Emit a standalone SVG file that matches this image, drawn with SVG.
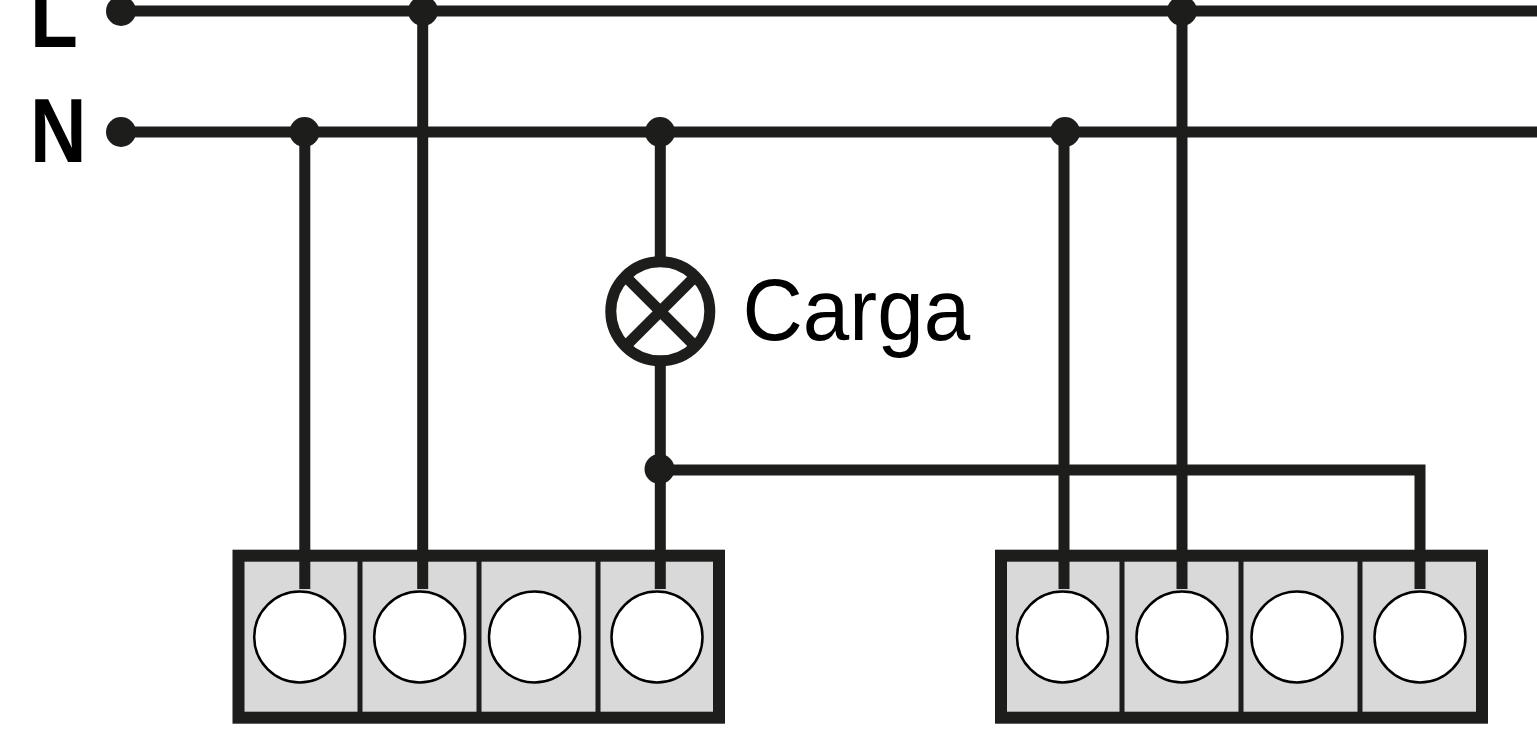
<svg xmlns="http://www.w3.org/2000/svg" width="1537" height="731" viewBox="0 0 1537 731">
<style>
.w{fill:none;stroke:#1d1d1b;stroke-width:11}
.d{fill:#1d1d1b}
.box{fill:#d9d9d9;stroke:#1d1d1b;stroke-width:12}
.div{stroke:#1d1d1b;stroke-width:5}
.t{fill:#fff;stroke:#000;stroke-width:2.5}
.b{font-family:"Liberation Sans",Arial,sans-serif;font-weight:700;font-size:90px;fill:#000}
.c{font-family:"Liberation Sans",Arial,sans-serif;font-size:88px;fill:#000}
</style>
<g id="terminal-block-1">
<rect class="box" x="238.5" y="555.7" width="480.5" height="162"/>
<path class="div" d="M360 556V718M479 556V718M598 556V718"/>
</g>
<g id="terminal-block-2">
<rect class="box" x="1001" y="555.7" width="481" height="162"/>
<path class="div" d="M1122 556V718M1241 556V718M1360 556V718"/>
</g>
<g id="connectors">
<path class="w" d="M121 11H1537M121 132H1537"/>
<path class="w" d="M304.8 132V589M422.7 11V589M660.3 132V589M1064 132V589M1182 11V589M660 470H1420V589"/>
<circle class="d" cx="121" cy="11" r="15"/>
<circle class="d" cx="121" cy="132" r="15"/>
<circle class="d" cx="304.5" cy="132" r="15"/>
<circle class="d" cx="423" cy="11" r="15"/>
<circle class="d" cx="660" cy="132" r="15"/>
<circle class="d" cx="1065" cy="132" r="15"/>
<circle class="d" cx="1182" cy="11" r="15"/>
<circle class="d" cx="659.5" cy="469" r="15"/>
</g>
<g id="terminals-1">
<circle class="t" cx="299.7" cy="637" r="45.5"/>
<circle class="t" cx="419.7" cy="637" r="45.5"/>
<circle class="t" cx="534.5" cy="637" r="45.5"/>
<circle class="t" cx="657" cy="637" r="45.5"/>
</g>
<g id="terminals-2">
<circle class="t" cx="1062.5" cy="637" r="45.5"/>
<circle class="t" cx="1182" cy="637" r="45.5"/>
<circle class="t" cx="1297" cy="637" r="45.5"/>
<circle class="t" cx="1420" cy="637" r="45.5"/>
</g>
<g id="lamp">
<circle cx="660.3" cy="311.3" r="49.5" fill="#fff" stroke="#1d1d1b" stroke-width="11"/>
<path class="w" d="M625.3 276.3L695.3 346.3M695.3 276.3L625.3 346.3"/>
<text class="c" transform="translate(742.5 340) scale(.95 1)">Carga</text>
</g>
<g id="label-L"><text class="b" transform="translate(30 46.7) scale(.87 1)">L</text></g>
<g id="label-N"><text class="b" transform="translate(30 161.7) scale(.87 1)">N</text></g>
</svg>
